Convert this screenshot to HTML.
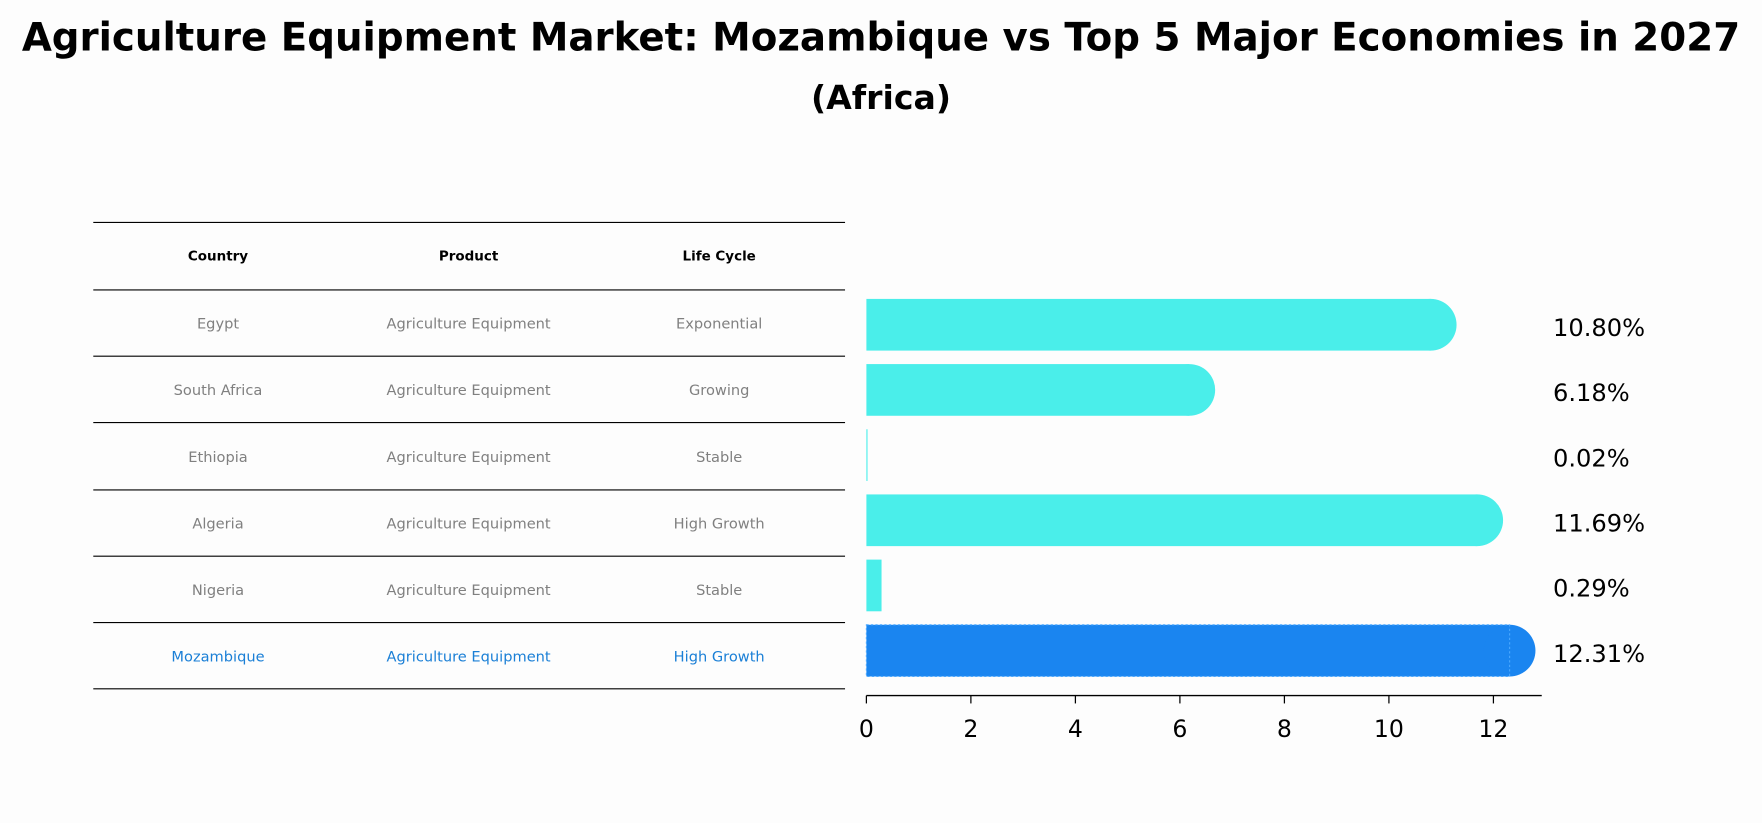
<!DOCTYPE html>
<html><head><meta charset="utf-8"><style>
body{margin:0;background:#fdfdfd;}
svg{display:block;font-family:"DejaVu Sans","Liberation Sans",sans-serif;}
</style></head><body>
<svg id="chart" width="1762" height="823" viewBox="0 0 1568 732.4">
<rect width="1568" height="733" fill="#fdfdfd"/>
<text x="784" y="45" text-anchor="middle" font-size="34.5" font-weight="bold" fill="#000">Agriculture Equipment Market: Mozambique vs Top 5 Major Economies in 2027</text>
<text x="784" y="97" text-anchor="middle" font-size="29.5" font-weight="bold" fill="#000">(Africa)</text>
<g id="table"></g>
<g id="bars"></g>
</svg>
<script>
const countries=["Egypt","South Africa","Ethiopia","Algeria","Nigeria","Mozambique"];
const products=["Agriculture Equipment","Agriculture Equipment","Agriculture Equipment","Agriculture Equipment","Agriculture Equipment","Agriculture Equipment"];
const lifeCycles=["Exponential","Growing","Stable","High Growth","Stable","High Growth"];
const values=[10.80,6.18,0.02,11.69,0.29,12.31];
const valueLabels=["10.80%","6.18%","0.02%","11.69%","0.29%","12.31%"];
const ticks=[0,2,4,6,8,10,12];
const NS="http://www.w3.org/2000/svg";
function mk(tag,attrs,parent,text){const e=document.createElementNS(NS,tag);for(const k in attrs)e.setAttribute(k,attrs[k]);if(text!==undefined)e.textContent=text;parent.appendChild(e);return e;}
const x0=771,pxPerUnit=46.5;
const xs=v=>x0+v*pxPerUnit;
const rowY=i=>289+i*58;
const tg=document.getElementById('table');
const lineYs=[198,258,317,376,436,495,554,613];
lineYs.forEach((y,i)=>{const l=mk('line',{x1:83,x2:752,y1:y,y2:y,stroke:'#000','stroke-width':1},tg);

});
const colX=[194,417,640];
["Country","Product","Life Cycle"].forEach((h,j)=>{const t=mk('text',{x:colX[j],y:232,'text-anchor':'middle','font-size':12,'font-weight':'bold',fill:'#000'},tg,h);

});
countries.forEach((c,i)=>{
 const y=(lineYs[i+1]+lineYs[i+2])/2+5;
 const col=c==="Mozambique"?"#1a7fd6":"#808080";
 [c,products[i],lifeCycles[i]].forEach((v,j)=>{const t=mk('text',{x:colX[j],y:y,'text-anchor':'middle','font-size':13,fill:col},tg,v);
 
 });
});
const bg=document.getElementById('bars');
const h=46,r=23;
values.forEach((v,i)=>{
 const isM=countries[i]==="Mozambique";
 const color=isM?"#1a85f0":"#4aeeea";
 const cy=rowY(i);
 const xe=xs(v);
 const g=mk('g',{},bg);
 
 
 mk('rect',{x:x0,y:cy-h/2,width:Math.max(xe-x0,1),height:h,fill:color},g);
 if(xe-x0>r) mk('circle',{cx:xe,cy:cy,r:r,fill:color},g);
 if(isM) mk('rect',{x:x0,y:cy-h/2,width:xe-x0,height:h,fill:'none',stroke:'#4aa8ff','stroke-width':1,'stroke-dasharray':'2,2'},g);
 const t=mk('text',{x:1382,y:cy+10,'font-size':21.5,fill:'#000'},bg,valueLabels[i]);
 
 
});
const ax=mk('line',{x1:x0,x2:1372,y1:619,y2:619,stroke:'#000','stroke-width':1.3},bg);


ticks.forEach(tv=>{
 const x=xs(tv);
 mk('line',{x1:x,x2:x,y1:619,y2:626,stroke:'#000','stroke-width':1.1},bg);
 const t=mk('text',{x:x,y:656,'text-anchor':'middle','font-size':21,fill:'#000'},bg,String(tv));
 
 
});
</script>
</body></html>
